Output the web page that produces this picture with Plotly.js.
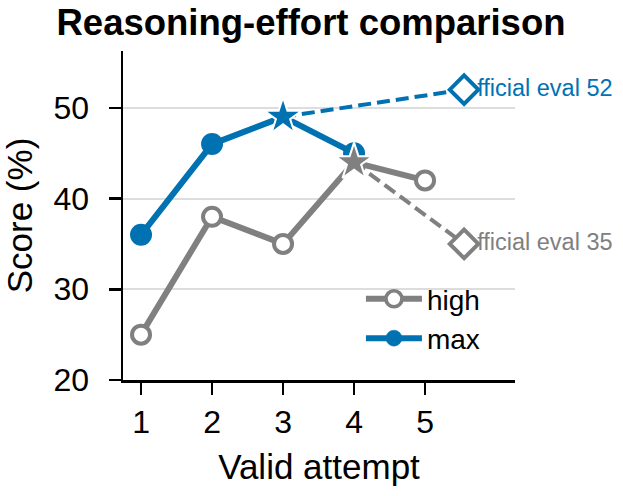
<!DOCTYPE html>
<html>
<head>
<meta charset="utf-8">
<script src="https://cdn.plot.ly/plotly-3.0.1.min.js"></script>
<style>html,body{margin:0;padding:0;background:#fff;}#chart{width:623px;height:496px;}</style>
</head>
<body>
<div id="chart"></div>
<script>
// Data
const attempts = [1, 2, 3, 4, 5];
const highScores = [25, 38, 35, 44, 42];
const maxAttempts = [1, 2, 3, 4];
const maxScores = [36, 46, 49, 45];
const officialX = 5.55;
const officialHigh = 35;
const officialMax = 52;
const highBestIdx = 3;  // best valid attempt for high (star)
const maxBestIdx = 2;   // best valid attempt for max (star)
const officialLabels = ['official eval 52', 'official eval 35'];

const BLUE = '#0072B2';
const GRAY = '#808080';
const FONT = 'Liberation Sans, Arial, sans-serif';

function symbolsFor(n, best){ return Array.from({length:n}, (_, i) => i === best ? 'star' : 'circle'); }
function sizesFor(n, best, s, bs){ return Array.from({length:n}, (_, i) => i === best ? bs : s); }

const traces = [
  {x:[maxAttempts[maxBestIdx], officialX], y:[maxScores[maxBestIdx], officialMax], mode:'lines',
   line:{color:BLUE, width:4, dash:'13px,6px'}, showlegend:false, hoverinfo:'skip'},
  {x:[attempts[highBestIdx], officialX], y:[highScores[highBestIdx], officialHigh], mode:'lines',
   line:{color:GRAY, width:4, dash:'13px,6px'}, showlegend:false, hoverinfo:'skip'},
  {x:[officialX], y:[officialMax], mode:'text', text:[officialLabels[0]], textposition:'middle right',
   textfont:{family:FONT, size:23.5, color:BLUE}, showlegend:false, cliponaxis:false, hoverinfo:'skip'},
  {x:[officialX], y:[officialHigh], mode:'text', text:[officialLabels[1]], textposition:'middle right',
   textfont:{family:FONT, size:23.5, color:GRAY}, showlegend:false, cliponaxis:false, hoverinfo:'skip'},
  {x:[officialX], y:[officialMax], mode:'markers', marker:{symbol:'diamond', size:22, color:'white', opacity:1, line:{color:BLUE, width:4}},
   showlegend:false, cliponaxis:false},
  {x:[officialX], y:[officialHigh], mode:'markers', marker:{symbol:'diamond', size:22, color:'white', opacity:1, line:{color:GRAY, width:4}},
   showlegend:false, cliponaxis:false},
  {x:maxAttempts, y:maxScores, name:'max', mode:'lines+markers', legendrank:2,
   line:{color:BLUE, width:6},
   marker:{symbol:symbolsFor(maxScores.length, maxBestIdx), size:sizesFor(maxScores.length, maxBestIdx, 22, 28), opacity:1,
           color:BLUE, line:{color:maxScores.map((_, i) => i === maxBestIdx ? 'white' : BLUE), width:maxScores.map((_, i) => i === maxBestIdx ? 2 : 0)}},
   cliponaxis:false},
  {x:attempts, y:highScores, name:'high', mode:'lines+markers', legendrank:1,
   line:{color:GRAY, width:6},
   marker:{symbol:symbolsFor(highScores.length, highBestIdx), size:sizesFor(highScores.length, highBestIdx, 18, 28), opacity:1,
           color:highScores.map((_, i) => i === highBestIdx ? GRAY : 'white'),
           line:{color:highScores.map((_, i) => i === highBestIdx ? 'white' : GRAY), width:highScores.map((_, i) => i === highBestIdx ? 2 : 4)}},
   cliponaxis:false}
];

const layout = {
  width:623, height:496,
  margin:{l:123, r:108, t:51, b:116, pad:0},
  paper_bgcolor:'white', plot_bgcolor:'white',
  font:{family:FONT, color:'black'},
  title:{text:'<b>Reasoning-effort comparison</b>', font:{family:FONT, size:36.5, color:'black'},
         x:311/623, xref:'container', xanchor:'center', y:1-22/496, yref:'container', yanchor:'middle'},
  xaxis:{range:[0.746, 6.267], tickvals:attempts, ticktext:attempts.map(String),
         showline:true, linecolor:'black', linewidth:2.5, ticks:'outside', ticklen:12, tickwidth:2.5, tickcolor:'black',
         showgrid:false, zeroline:false, tickfont:{family:FONT, size:32}, ticklabelstandoff:0,
         title:{text:'Valid attempt', font:{family:FONT, size:35}, standoff:16}},
  yaxis:{range:[20, 56.26], tickvals:[20, 30, 40, 50],
         showline:true, linecolor:'black', linewidth:2.5, ticks:'outside', ticklen:12, tickwidth:2.5, tickcolor:'black',
         showgrid:true, gridcolor:'#dddddd', gridwidth:2, zeroline:false, tickfont:{family:FONT, size:32}, ticklabelstandoff:13,
         title:{text:'Score (%)', font:{family:FONT, size:35}, standoff:18}},
  legend:{x:0.607, y:0.322, xanchor:'left', yanchor:'top', font:{family:FONT, size:28}, bgcolor:'rgba(0,0,0,0)',
          traceorder:'normal', tracegroupgap:0, itemwidth:56},
  showlegend:true
};

Plotly.newPlot('chart', traces, layout, {displayModeBar:false, staticPlot:true});
</script>
</body>
</html>
